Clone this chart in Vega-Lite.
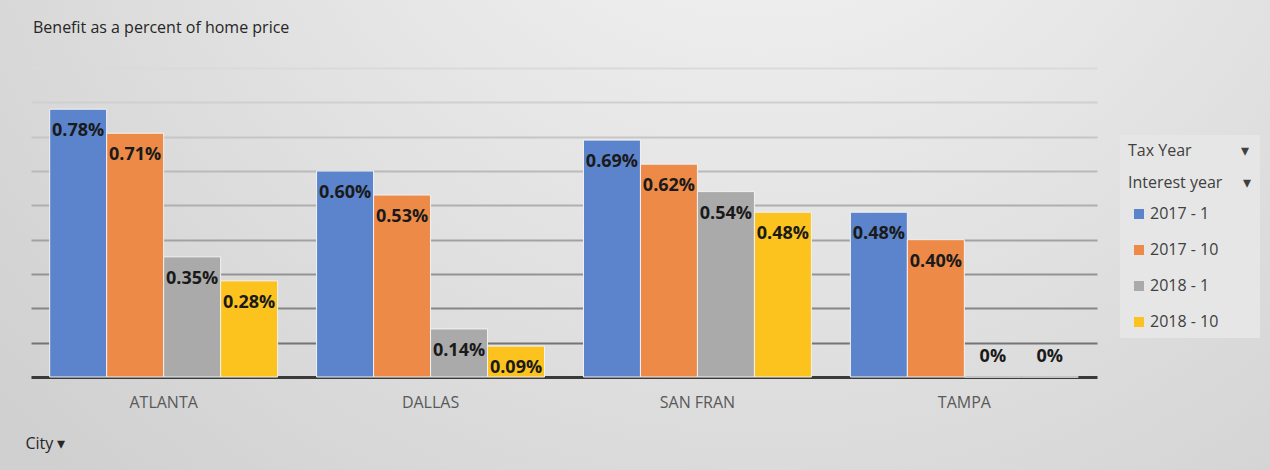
{
  "$schema": "https://vega.github.io/schema/vega-lite/v6.json",
  "width": 1270,
  "height": 470,
  "autosize": {"type": "none"},
  "padding": 0,
  "background": "#dadada",
  "config": {
    "font": "Open Sans",
    "view": {
      "stroke": null,
      "fill": {
        "gradient": "radial",
        "x1": 0.6, "y1": 0.1, "x2": 0.6, "y2": 0.1, "r1": 0, "r2": 0.8,
        "stops": [
          {"offset": 0, "color": "#f8f8f8"},
          {"offset": 1, "color": "#d0d0d0"}
        ]
      }
    }
  },
  "title": {
    "text": "Benefit as a percent of home price",
    "anchor": "start",
    "frame": "group",
    "fontSize": 16,
    "fontWeight": "normal",
    "color": "#262626",
    "font": "Open Sans",
    "offset": 0,
    "dx": 33,
    "dy": 36
  },
  "data": {
    "values": [
      {"City": "ATLANTA", "Series": "2017 - 1", "Benefit": 0.0078},
      {"City": "ATLANTA", "Series": "2017 - 10", "Benefit": 0.0071},
      {"City": "ATLANTA", "Series": "2018 - 1", "Benefit": 0.0035},
      {"City": "ATLANTA", "Series": "2018 - 10", "Benefit": 0.0028},
      {"City": "DALLAS", "Series": "2017 - 1", "Benefit": 0.0060},
      {"City": "DALLAS", "Series": "2017 - 10", "Benefit": 0.0053},
      {"City": "DALLAS", "Series": "2018 - 1", "Benefit": 0.0014},
      {"City": "DALLAS", "Series": "2018 - 10", "Benefit": 0.0009},
      {"City": "SAN FRAN", "Series": "2017 - 1", "Benefit": 0.0069},
      {"City": "SAN FRAN", "Series": "2017 - 10", "Benefit": 0.0062},
      {"City": "SAN FRAN", "Series": "2018 - 1", "Benefit": 0.0054},
      {"City": "SAN FRAN", "Series": "2018 - 10", "Benefit": 0.0048},
      {"City": "TAMPA", "Series": "2017 - 1", "Benefit": 0.0048},
      {"City": "TAMPA", "Series": "2017 - 10", "Benefit": 0.0040},
      {"City": "TAMPA", "Series": "2018 - 1", "Benefit": 0},
      {"City": "TAMPA", "Series": "2018 - 10", "Benefit": 0}
    ]
  },
  "encoding": {
    "x": {
      "field": "City",
      "type": "nominal",
      "sort": ["ATLANTA", "DALLAS", "SAN FRAN", "TAMPA"],
      "scale": {"range": [31, 1097], "paddingInner": 0.146, "paddingOuter": 0.07},
      "axis": {
        "orient": "bottom",
        "offset": -93,
        "grid": false,
        "ticks": false,
        "domainColor": "#3a3a3a",
        "domainWidth": 3,
        "labelAngle": 0,
        "labelPadding": 17,
        "labelFontSize": 16,
        "labelFont": "Open Sans",
        "labelColor": "#595959",
        "title": "City ▾",
        "titleX": 25,
        "titleY": 66,
        "titleAlign": "left",
        "titleBaseline": "middle",
        "titleFontSize": 16,
        "titleFontWeight": "normal",
        "titleColor": "#262626",
        "titleFont": "Open Sans"
      }
    },
    "xOffset": {
      "field": "Series",
      "type": "nominal",
      "sort": ["2017 - 1", "2017 - 10", "2018 - 1", "2018 - 10"],
      "scale": {"paddingInner": 0, "paddingOuter": 0}
    },
    "y": {
      "field": "Benefit",
      "type": "quantitative",
      "scale": {"domain": [0, 0.009], "range": [377, 68], "nice": false, "zero": true},
      "axis": {
        "title": null,
        "labels": false,
        "ticks": false,
        "domain": false,
        "grid": true,
        "gridWidth": 2,
        "gridColor": {
          "condition": [
            {"test": "datum.value < 0.0015", "value": "#747474"},
            {"test": "datum.value < 0.0025", "value": "#868686"},
            {"test": "datum.value < 0.0035", "value": "#939393"},
            {"test": "datum.value < 0.0045", "value": "#a2a2a2"},
            {"test": "datum.value < 0.0055", "value": "#afafaf"},
            {"test": "datum.value < 0.0065", "value": "#bababa"},
            {"test": "datum.value < 0.0075", "value": "#c6c6c6"},
            {"test": "datum.value < 0.0085", "value": "#d0d0d0"}
          ],
          "value": "#dadada"
        },
        "values": [0.001, 0.002, 0.003, 0.004, 0.005, 0.006, 0.007, 0.008, 0.009]
      }
    }
  },
  "layer": [
    {
      "mark": {"type": "bar", "stroke": "#f2f2f2", "strokeWidth": 1},
      "encoding": {
        "color": {
          "field": "Series",
          "type": "nominal",
          "sort": ["2017 - 1", "2017 - 10", "2018 - 1", "2018 - 10"],
          "scale": {
            "domain": ["2017 - 1", "2017 - 10", "2018 - 1", "2018 - 10"],
            "range": ["#5b84cc", "#ee8a48", "#aaaaaa", "#fcc21e"]
          },
          "legend": {
            "orient": "none",
            "legendX": 1120,
            "legendY": 135,
            "title": ["Tax Year\u00a0\u00a0\u00a0\u00a0\u00a0\u00a0\u00a0\u00a0\u00a0\u00a0\u00a0\u00a0▾", "Interest year\u00a0\u00a0\u00a0\u00a0\u00a0▾"],
            "titleFont": "Open Sans",
            "titleFontSize": 16,
            "titleFontWeight": "normal",
            "titleColor": "#404040",
            "titleLineHeight": 32,
            "titlePadding": 15,
            "labelFont": "Open Sans",
            "labelFontSize": 16,
            "labelColor": "#404040",
            "labelOffset": 3,
            "symbolType": "square",
            "symbolSize": 100,
            "symbolOffset": 3,
            "symbolStrokeWidth": 0,
            "rowPadding": 20,
            "fillColor": "#e6e6e6",
            "padding": 8
          }
        }
      }
    },
    {
      "transform": [{"filter": "datum.Benefit > 0"}],
      "mark": {"type": "text", "baseline": "middle", "dy": 22, "fontWeight": "bold", "fontSize": 18, "font": "Open Sans", "color": "#1a1a1a"},
      "encoding": {"text": {"field": "Benefit", "type": "quantitative", "format": ".2%"}}
    },
    {
      "transform": [{"filter": "datum.Benefit == 0"}],
      "mark": {"type": "text", "baseline": "middle", "dy": -20, "fontWeight": "bold", "fontSize": 18, "font": "Open Sans", "color": "#1a1a1a"},
      "encoding": {"text": {"field": "Benefit", "type": "quantitative", "format": ".0%"}}
    }
  ]
}
